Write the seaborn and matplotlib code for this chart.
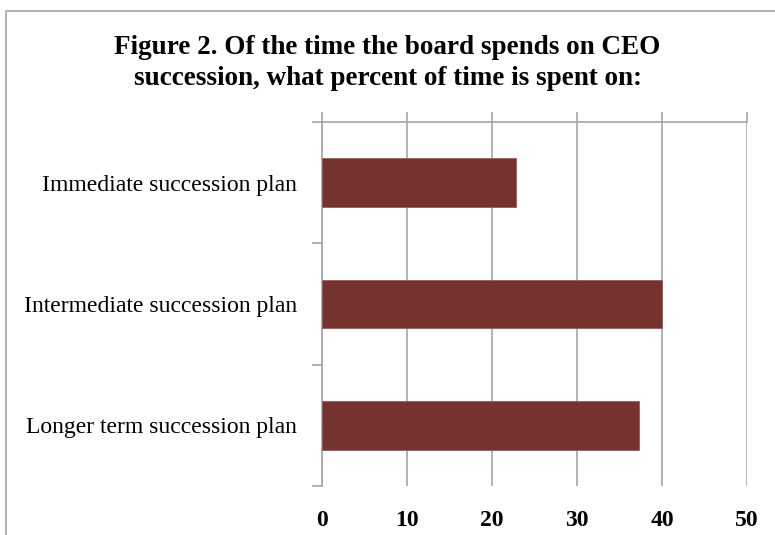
import matplotlib
matplotlib.use("Agg")
import matplotlib.pyplot as plt
import seaborn as sns
import pandas as pd
from matplotlib.patches import Rectangle
from matplotlib.ticker import MultipleLocator

categories = ["Immediate succession plan",
              "Intermediate succession plan",
              "Longer term succession plan"]
percent_time = [22.8, 40.0, 37.3]
x_ticks = [0, 10, 20, 30, 40, 50]
title = ("Figure 2. Of the time the board spends on CEO\n"
         "succession, what percent of time is spent on:")

df = pd.DataFrame({"category": categories, "percent": percent_time})

sns.set_theme(style="white")
plt.rcParams["font.family"] = ["Liberation Serif", "DejaVu Serif"]
plt.rcParams["text.color"] = "black"
plt.rcParams["xtick.color"] = "black"
plt.rcParams["ytick.color"] = "black"

fig = plt.figure(figsize=(7.75, 5.35), dpi=100)
ax = fig.add_axes([322 / 775, 1 - 486 / 535, 425 / 775, 364 / 535])

sns.barplot(data=df, x="percent", y="category", orient="h",
            color="#76322F", saturation=1, width=0.40,
            edgecolor="#9A5A57", linewidth=0.6, ax=ax, zorder=3)

grid_c = "#A6A6A6"
ax.set_xlim(0, 50)
ax.set_ylim(2.5, -0.5)
ax.set_xticks(x_ticks)
ax.set_xticklabels([str(t) for t in x_ticks], fontsize=17, fontweight="bold")
ax.grid(axis="x", color=grid_c, linewidth=1.2, zorder=0)
ax.grid(axis="y", visible=False)
ax.tick_params(axis="x", which="both", top=True, bottom=False, length=7,
               color=grid_c, width=1.2, direction="out", pad=10,
               labeltop=False, labelbottom=True, labelcolor="black")

ax.set_yticks([0, 1, 2])
ax.set_yticklabels(categories, fontsize=17)
ax.yaxis.set_minor_locator(MultipleLocator(1, offset=0.5))
ax.tick_params(axis="y", which="major", length=0, pad=18, labelcolor="black")
ax.tick_params(axis="y", which="minor", left=True, length=7,
               color=grid_c, width=1.2, direction="out")
ax.set_xlabel("")
ax.set_ylabel("")

for side in ["right", "bottom"]:
    ax.spines[side].set_visible(False)
for side in ["left", "top"]:
    ax.spines[side].set_color(grid_c)
    ax.spines[side].set_linewidth(1.2)

fig.text(0.5, 1 - 63 / 535, title, ha="center", va="center", color="black",
         fontsize=19.5, fontweight="bold", linespacing=1.35)

fig.patches.append(Rectangle((5.5 / 775, -0.1), 1.2, (535 - 10.5) / 535 + 0.1,
                             transform=fig.transFigure, fill=False,
                             edgecolor="#A6A6A6", linewidth=1.2))

fig.savefig("out.png", dpi=100)
